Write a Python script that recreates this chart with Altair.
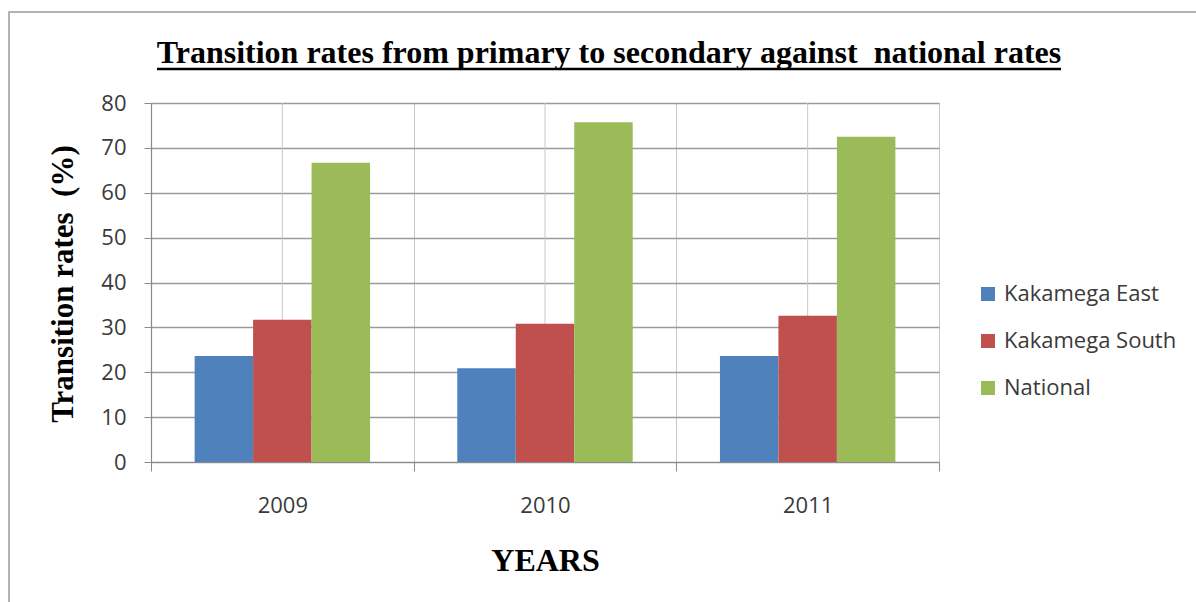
import altair as alt
import pandas as pd

years = ["2009", "2010", "2011"]
series = ["Kakamega East", "Kakamega South", "National"]
kakamega_east = [23.6, 20.9, 23.6]
kakamega_south = [31.7, 30.8, 32.6]
national = [66.7, 75.7, 72.5]
colors = ["#4F81BD", "#C0504D", "#9BBB59"]
y_ticks = [0, 10, 20, 30, 40, 50, 60, 70, 80]

title_text = "Transition rates from primary to secondary against\u00a0 national rates"
y_title = "Transition rates\u00a0 (%)"
x_title = "YEARS"

rows = []
for s, vals in zip(series, [kakamega_east, kakamega_south, national]):
    for yr, v in zip(years, vals):
        rows.append({"Year": yr, "Series": s, "Rate": v})
df = pd.DataFrame(rows)
years_df = pd.DataFrame({"Year": years})
title_df = pd.DataFrame({"t": [title_text]})
one = pd.DataFrame({"k": [0]})

W, H = 788, 359
SERIF = "Liberation Serif"
SANS = "Open Sans"

x_enc = alt.X(
    "Year:N", sort=years,
    scale=alt.Scale(paddingInner=0, paddingOuter=0),
    axis=alt.Axis(
        title=x_title, titleFont=SERIF, titleFontSize=32, titleFontWeight="bold",
        titleColor="black", titleBaseline="alphabetic", titleY=108,
        labelFont=SANS, labelFontSize=22, labelColor="#3a3a3a", labelAngle=0,
        labelBaseline="middle", labelPadding=34,
        tickBand="extent", tickSize=9, tickColor="#8a8a8a",
        domainColor="#8a8a8a", domainWidth=1.2,
        grid=True, gridColor="#c8c8c8", gridWidth=1,
    ),
)

center_grid = alt.Chart(years_df).mark_rule(color="#c8c8c8", strokeWidth=1).encode(x=x_enc)

bars = alt.Chart(df).mark_bar().encode(
    x=x_enc,
    xOffset=alt.XOffset("Series:N", sort=series,
                        scale=alt.Scale(paddingOuter=0.746, paddingInner=0)),
    y=alt.Y(
        "Rate:Q",
        scale=alt.Scale(domain=[0, 80], nice=False),
        axis=alt.Axis(
            values=y_ticks, title=y_title, titleFont=SERIF, titleFontSize=31,
            titleFontWeight="bold", titleColor="black", titleAngle=270,
            titleAlign="center", titleBaseline="alphabetic", titleX=-79, titleY=H / 2 + 1,
            labelFont=SANS, labelFontSize=22, labelColor="#3a3a3a", labelPadding=18,
            tickSize=7, tickColor="#8a8a8a", domainColor="#8a8a8a", domainWidth=1.2,
            grid=True, gridColor="#9a9a9a", gridWidth=1.3,
        ),
    ),
    color=alt.Color(
        "Series:N", sort=series,
        scale=alt.Scale(domain=series, range=colors),
        legend=alt.Legend(
            title=None, orient="none", legendX=826, legendY=180,
            symbolType="square", symbolSize=196, symbolStrokeWidth=0,
            labelFont=SANS, labelFontSize=22, labelColor="#3a3a3a", labelLimit=400,
            labelOffset=5, rowPadding=25,
        ),
    ),
)

frame = alt.Chart(one).mark_rect(fillOpacity=0, stroke="#9a9a9a", strokeWidth=1.5).encode(
    x=alt.value(-142), x2=alt.value(1080), y=alt.value(-91), y2=alt.value(530)
)

title_mark = alt.Chart(title_df).mark_text(
    font=SERIF, fontSize=32, fontWeight="bold", color="black",
    align="center", baseline="alphabetic",
).encode(x=alt.value(458), y=alt.value(-40), text="t:N")

underline = alt.Chart(one).mark_rule(color="black", strokeWidth=2.5).encode(
    x=alt.value(6), x2=alt.value(910), y=alt.value(-34)
)

chart = alt.layer(center_grid, bars, frame, title_mark, underline).properties(
    width=W, height=H,
    autosize=alt.AutoSizeParams(type="none"),
    padding={"left": 151, "top": 103, "right": 257, "bottom": 140},
).configure_view(stroke=None).configure(background="white")

chart.save("out.html", embed_options={"renderer": "svg", "actions": False})
